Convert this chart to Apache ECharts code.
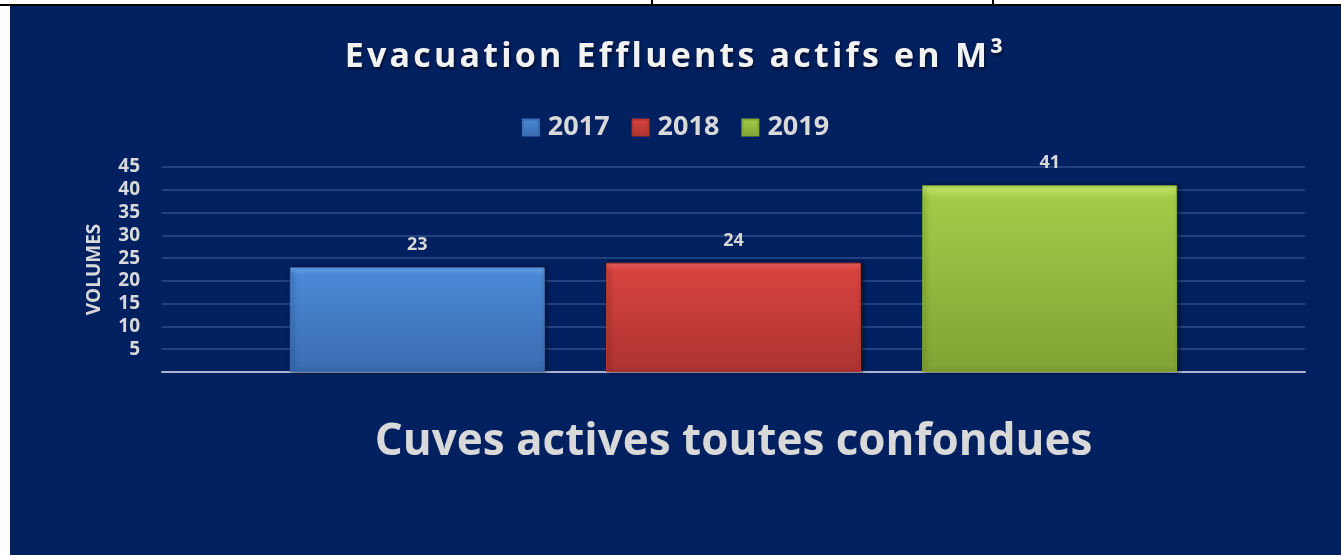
<!DOCTYPE html>
<html>
<head>
<meta charset="utf-8">
<script src="https://cdn.jsdelivr.net/npm/echarts@6/dist/echarts.min.js"></script>
<style>
  html, body { margin: 0; padding: 0; background: #fff; }
  .page { position: relative; width: 1341px; height: 555px; overflow: hidden; }
  .topline { position: absolute; left: 0; top: 4px; width: 1341px; height: 2px; background: #000; }
  .vline { position: absolute; top: 0; width: 2px; height: 5px; background: #000; }
  #chart { position: absolute; left: 10px; top: 6px; width: 1331px; height: 549px; }
  .title {
    position: absolute; left: 10px; top: 33px; width: 1331px; text-align: center;
    font-family: "Open Sans", sans-serif; font-weight: bold; font-size: 34px; line-height: 42px;
    letter-spacing: 3.2px; color: #f2f2f2; text-shadow: 1px 2px 3px rgba(0,0,0,0.6);
    z-index: 2;
  }
</style>
</head>
<body>
<div class="page">
  <div class="topline"></div>
  <div class="vline" style="left:651px"></div>
  <div class="vline" style="left:992px"></div>
  <div id="chart"></div>
  <div class="title">Evacuation Effluents actifs en M³</div>
</div>
<script>
const years = ['2017', '2018', '2019'];
const categories = ['Cuves actives toutes confondues'];
const volumes = [23, 24, 41];
const yTicks = { min: 0, max: 45, step: 5 };

const barColors = [
  ['#6aaef5', '#4a88d6', '#3b6db3'],
  ['#f26560', '#d64340', '#b03431'],
  ['#c8ec68', '#a2cb48', '#84a636']
];
const textColor = '#d9d9d9';
const fontFamily = '"Open Sans", sans-serif';

const myChart = echarts.init(document.getElementById('chart'));

function barGradient(c) {
  return new echarts.graphic.LinearGradient(0, 0, 0, 1, [
    { offset: 0, color: c[0] },
    { offset: 0.07, color: c[1] },
    { offset: 0.93, color: c[2] },
    { offset: 1, color: c[2] }
  ]);
}

const option = {
  backgroundColor: '#002060',
  textStyle: { fontFamily: fontFamily },
  legend: {
    data: years,
    top: 103,
    left: 'center',
    icon: 'rect',
    itemWidth: 16,
    itemHeight: 16,
    itemGap: 22,
    textStyle: { color: textColor, fontSize: 27, fontWeight: 'bold', fontFamily: fontFamily, padding: [0, 0, 0, 4] }
  },
  grid: { left: 152, right: 36, top: 161, bottom: 183 },
  xAxis: {
    type: 'category',
    data: categories,
    axisLine: { lineStyle: { color: '#a9b4cc', width: 2 } },
    axisTick: { show: false },
    axisLabel: { color: textColor, fontSize: 44, fontWeight: 'bold', margin: 48, fontFamily: fontFamily }
  },
  yAxis: {
    type: 'value',
    min: yTicks.min,
    max: yTicks.max,
    interval: yTicks.step,
    name: 'VOLUMES',
    nameLocation: 'middle',
    nameGap: 58,
    nameRotate: 90,
    nameTextStyle: { color: textColor, fontSize: 19, fontWeight: 'bold', fontFamily: fontFamily },
    axisLine: { show: false },
    axisTick: { show: false },
    splitLine: { lineStyle: { color: 'rgba(120,150,210,0.28)', width: 2 } },
    axisLabel: {
      color: textColor,
      fontSize: 19,
      fontWeight: 'bold',
      margin: 22,
      formatter: v => (v === 0 ? '' : v)
    }
  },
  series: years.map((y, i) => ({
    name: y,
    type: 'bar',
    data: [volumes[i]],
    barWidth: 255,
    barGap: '24%',
    itemStyle: {
      color: barGradient(barColors[i]),
      borderColor: barColors[i][2],
      borderWidth: 1,
      shadowColor: 'rgba(0,0,0,0.5)',
      shadowBlur: 4,
      shadowOffsetX: 2
    },
    label: {
      show: true,
      position: 'top',
      distance: 13,
      color: textColor,
      fontSize: 18,
      fontWeight: 'bold'
    }
  }))
};

myChart.setOption(option);
</script>
</body>
</html>
